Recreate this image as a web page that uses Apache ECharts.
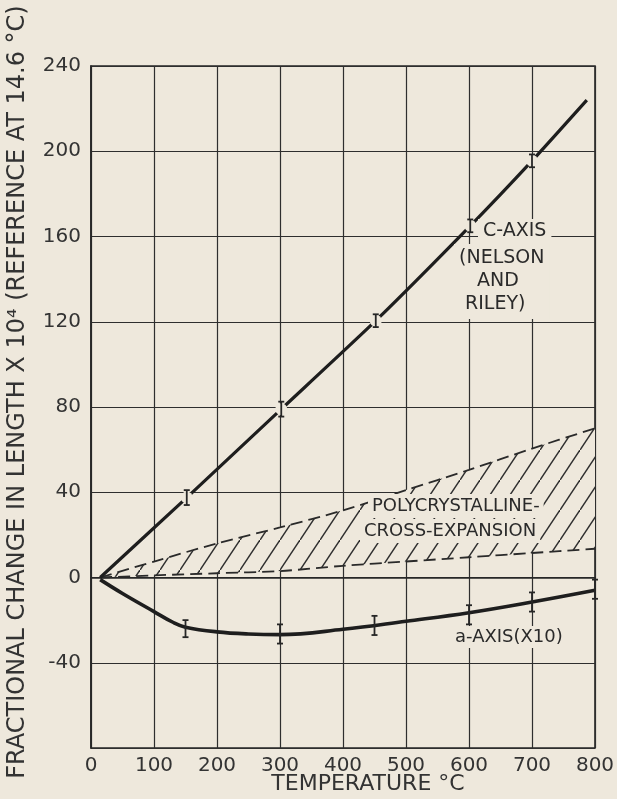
<!DOCTYPE html>
<html>
<head>
<meta charset="utf-8">
<script src="https://cdn.jsdelivr.net/npm/echarts@6/dist/echarts.min.js"></script>
<style>
  html, body { margin: 0; padding: 0; background: #eee8dc; }
  #chart { width: 617px; height: 799px; }
</style>
</head>
<body>
<div id="chart"></div>
<script>
// ---------- data ----------
const xTickValues = [0, 100, 200, 300, 400, 500, 600, 700, 800];
const yTickValues = [-80, -40, 0, 40, 80, 120, 160, 200, 240];

// C-axis (Nelson and Riley)
const cTemp = [14.6, 152, 302, 452, 602, 700, 787];
const cVal  = [0, 37.5, 79, 120.5, 165, 195.5, 224];
const cErrTemp = [152, 302, 452, 602, 700];
const cErrVal  = [37.5, 79, 120.5, 165, 195.5];
const cErrHalf = [3.5, 3.5, 3, 3, 3];

// a-axis (x10)
const aTemp = [14.6, 50, 100, 130, 150, 200, 250, 300, 400, 500, 600, 700, 800];
const aVal  = [-1, -7.5, -16, -21, -23.3, -25.5, -26.5, -26.8, -24.3, -20.5, -16.5, -11.5, -6];
const aErrTemp = [150, 300, 450, 600, 700, 800];
const aErrVal  = [-24, -26.5, -22.5, -17.5, -11.5, -5.5];
const aErrHalf = [4, 4.5, 4.5, 4.5, 4.5, 4.5];

// Polycrystalline cross-expansion band
const bandTemp = [14.6, 100, 200, 300, 400, 500, 600, 700, 800];
const bandLow  = [0, 1, 2, 3, 5.5, 7.5, 9.5, 11.5, 13.5];
const bandHigh = [0, 7.5, 16, 23.5, 31.5, 41, 50.5, 60.5, 70];

// ---------- styles ----------
const PAPER = '#eee8dc';
const INK = '#262626';
const FONT = "'DejaVu Sans', 'Liberation Sans', sans-serif";

// hatch pattern
const hatch = document.createElement('canvas');
hatch.width = 20; hatch.height = 30;
(function () {
  const g = hatch.getContext('2d');
  g.fillStyle = PAPER; g.fillRect(0, 0, 20, 30);
  g.strokeStyle = '#2e2e2e'; g.lineWidth = 1.5;
  g.beginPath();
  g.moveTo(-2, 33); g.lineTo(22, -3);
  g.stroke();
})();

const chart = echarts.init(document.getElementById('chart'), null, { renderer: 'canvas' });

function errRender(withGap) {
  return function (params, api) {
    const t = api.value(0), c = api.value(1), h = api.value(2);
    const top = api.coord([t, c + h]);
    const bot = api.coord([t, c - h]);
    const mid = api.coord([t, c]);
    const children = [];
    if (withGap) {
      children.push({ type: 'circle', shape: { cx: mid[0], cy: mid[1], r: 6 }, style: { fill: PAPER } });
    }
    const st = { stroke: INK, lineWidth: 1.8 };
    children.push({ type: 'line', shape: { x1: top[0], y1: top[1], x2: bot[0], y2: bot[1] }, style: st });
    children.push({ type: 'line', shape: { x1: top[0] - 3, y1: top[1], x2: top[0] + 3, y2: top[1] }, style: st });
    children.push({ type: 'line', shape: { x1: bot[0] - 3, y1: bot[1], x2: bot[0] + 3, y2: bot[1] }, style: st });
    return { type: 'group', children };
  };
}

const option = {
  backgroundColor: PAPER,
  animation: false,
  grid: { left: 91, right: 22, top: 66, bottom: 51, containLabel: false, outerBoundsMode: 'none',
          show: true, borderColor: INK, borderWidth: 1.6, backgroundColor: 'transparent' },
  xAxis: {
    type: 'value', min: xTickValues[0], max: xTickValues[xTickValues.length - 1], interval: 100,
    name: 'TEMPERATURE °C', nameLocation: 'middle', nameGap: 25, nameMoveOverlap: false,
    nameTextStyle: { fontFamily: FONT, fontSize: 22, color: '#333', padding: [0, 0, 0, 50] },
    axisLine: { show: true, lineStyle: { color: INK, width: 1.6 } },
    axisTick: { show: false },
    axisLabel: { fontFamily: FONT, fontSize: 20, color: '#333', margin: 8 },
    splitLine: { show: true, lineStyle: { color: '#2e2e2e', width: 1.2 } }
  },
  yAxis: {
    type: 'value', min: yTickValues[0], max: yTickValues[yTickValues.length - 1], interval: 40,
    name: 'FRACTIONAL CHANGE IN LENGTH X 10⁴ (REFERENCE AT 14.6 °C)', nameLocation: 'middle', nameGap: 61, nameRotate: 90,
    nameTextStyle: { fontFamily: FONT, fontSize: 24, color: '#333', padding: [0, 0, 0, 30] },
    axisLine: { show: true, lineStyle: { color: INK, width: 1.6 } },
    axisTick: { show: false },
    axisLabel: { fontFamily: FONT, fontSize: 20, color: '#333', margin: 10,
      formatter: v => (v === yTickValues[0] ? '' : String(v)) },
    splitLine: { show: true, lineStyle: { color: '#2e2e2e', width: 1.2 } }
  },
  series: [
    {
      type: 'custom', name: 'band', z: 1,
      data: bandTemp.map((t, i) => [t, bandLow[i], bandHigh[i]]),
      renderItem: function (params, api) {
        if (params.dataIndex !== 0) return null;
        const pts = [];
        for (let i = 0; i < bandTemp.length; i++) pts.push(api.coord([bandTemp[i], bandHigh[i]]));
        for (let i = bandTemp.length - 1; i >= 0; i--) pts.push(api.coord([bandTemp[i], bandLow[i]]));
        return { type: 'polygon', shape: { points: pts }, style: { fill: { image: hatch, repeat: 'repeat' }, stroke: null } };
      },
      silent: true
    },
    {
      type: 'line', name: 'band-high', z: 2, symbol: 'none', smooth: 0.3,
      data: bandTemp.map((t, i) => [t, bandHigh[i]]),
      lineStyle: { color: '#2a2a2a', width: 1.8, type: [12, 6] }
    },
    {
      type: 'line', name: 'band-low', z: 2, symbol: 'none', smooth: 0.3,
      data: bandTemp.map((t, i) => [t, bandLow[i]]),
      lineStyle: { color: '#2a2a2a', width: 1.8, type: [12, 6] }
    },
    {
      type: 'line', name: 'C-AXIS', z: 3, symbol: 'none', smooth: 0.2,
      data: cTemp.map((t, i) => [t, cVal[i]]),
      lineStyle: { color: '#1e1e1e', width: 3.2 }
    },
    {
      type: 'line', name: 'a-AXIS', z: 3, symbol: 'none', smooth: 0.4,
      data: aTemp.map((t, i) => [t, aVal[i]]),
      lineStyle: { color: '#1e1e1e', width: 3.6 }
    },
    {
      type: 'custom', name: 'c-err', z: 4,
      data: cErrTemp.map((t, i) => [t, cErrVal[i], cErrHalf[i]]),
      renderItem: errRender(true)
    },
    {
      type: 'custom', name: 'a-err', z: 4,
      data: aErrTemp.map((t, i) => [t, aErrVal[i], aErrHalf[i]]),
      renderItem: errRender(false)
    }
  ],
  graphic: [
    { type: 'text', z: 100, left: 478, top: 219,
      style: { text: 'C-AXIS', font: "19px 'DejaVu Sans', sans-serif", fill: '#2a2a2a', backgroundColor: PAPER, padding: [3, 5] } },
    { type: 'text', z: 100, left: 454, top: 244,
      style: { text: '(NELSON\n   AND\n RILEY)', font: "19px 'DejaVu Sans', sans-serif", lineHeight: 23, fill: '#2a2a2a', backgroundColor: PAPER, padding: [3, 5] } },
    { type: 'text', z: 100, left: 368, top: 494,
      style: { text: 'POLYCRYSTALLINE-', font: "18px 'DejaVu Sans', sans-serif", fill: '#2a2a2a', backgroundColor: PAPER, padding: [3, 4] } },
    { type: 'text', z: 100, left: 360, top: 519,
      style: { text: 'CROSS-EXPANSION', font: "18px 'DejaVu Sans', sans-serif", fill: '#2a2a2a', backgroundColor: PAPER, padding: [3, 4] } },
    { type: 'text', z: 100, left: 452, top: 626,
      style: { text: 'a-AXIS(X10)', font: "18px 'DejaVu Sans', sans-serif", fill: '#2a2a2a', backgroundColor: PAPER, padding: [2, 3] } }
  ]
};
chart.setOption(option);
</script>
</body>
</html>
